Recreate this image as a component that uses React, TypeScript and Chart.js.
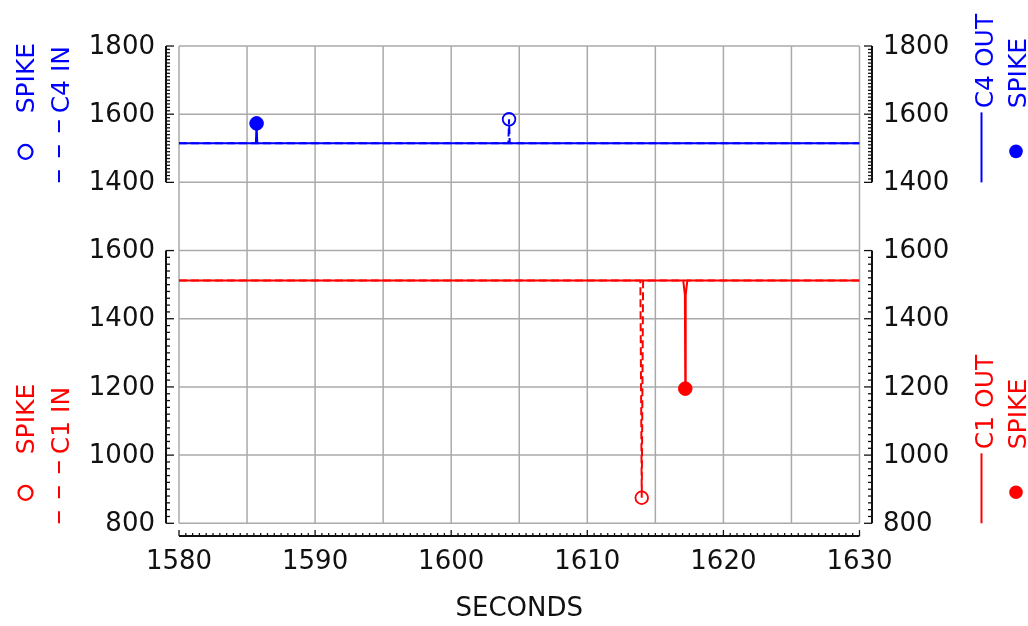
import React, { useEffect, useRef } from 'react';
import { Chart, registerables } from 'chart.js';

Chart.register(...registerables);

// ---------- data ----------
const c4InTimes = [1580, 1604.2, 1604.25, 1604.3, 1630];
const c4InValues = [1515, 1515, 1585, 1515, 1515];
const c4OutTimes = [1580, 1585.65, 1585.7, 1585.75, 1630];
const c4OutValues = [1515, 1515, 1573, 1515, 1515];
const c4InSpikeTimes = [1604.25];
const c4InSpikeValues = [1585];
const c4OutSpikeTimes = [1585.7];
const c4OutSpikeValues = [1573];

const c1InTimes = [1580, 1613.9, 1614.0, 1614.1, 1630];
const c1InValues = [1512, 1512, 875, 1512, 1512];
const c1OutTimes = [1580, 1617.05, 1617.17, 1617.2, 1617.23, 1617.35, 1630];
const c1OutValues = [1512, 1512, 1470, 1195, 1470, 1512, 1512];
const c1InSpikeTimes = [1614.0];
const c1InSpikeValues = [875];
const c1OutSpikeTimes = [1617.2];
const c1OutSpikeValues = [1195];

// ---------- ticks ----------
const xTickValues = [1580, 1590, 1600, 1610, 1620, 1630];
const xTickLabels = ['1580', '1590', '1600', '1610', '1620', '1630'];
const xGridValues = [1580, 1585, 1590, 1595, 1600, 1605, 1610, 1615, 1620, 1625, 1630];
const topTickValues = [1400, 1600, 1800];
const topTickLabels = ['1400', '1600', '1800'];
const bottomTickValues = [800, 1000, 1200, 1400, 1600];
const bottomTickLabels = ['800', '1000', '1200', '1400', '1600'];

const X_MIN = 1580;
const X_MAX = 1630;
const TOP_MIN = 1400;
const TOP_MAX = 1800;
const BOT_MIN = 800;
const BOT_MAX = 1600;

const BLUE = '#0000ff';
const RED = '#ff0000';
const GRID = '#aaaaaa';
const INK = '#111111';
const FONT = '"DejaVu Sans", "Liberation Sans", sans-serif';

const pts = (xs: number[], ys: number[]) => xs.map((x, i) => ({ x, y: ys[i] }));

function vText(ctx: CanvasRenderingContext2D, text: string, x: number, y: number, color: string) {
  ctx.save();
  ctx.translate(x, y);
  ctx.rotate(-Math.PI / 2);
  ctx.textAlign = 'left';
  ctx.textBaseline = 'alphabetic';
  ctx.fillStyle = color;
  ctx.fillText(text, 0, 0);
  ctx.restore();
}

function seg(ctx: CanvasRenderingContext2D, x1: number, y1: number, x2: number, y2: number) {
  ctx.beginPath();
  ctx.moveTo(x1, y1);
  ctx.lineTo(x2, y2);
  ctx.stroke();
}

const decor = {
  id: 'decor',
  beforeDatasetsDraw(chart: any) {
    const { ctx, scales } = chart;
    const x = scales.x, yT = scales.yTop, yB = scales.yBot;
    ctx.save();
    ctx.strokeStyle = GRID;
    ctx.lineWidth = 1.5;
    const yTopPx = yT.getPixelForValue(TOP_MAX);
    const yBotPx = yB.getPixelForValue(BOT_MIN);
    for (const t of xGridValues) {
      const px = x.getPixelForValue(t);
      seg(ctx, px, yTopPx, px, yBotPx);
    }
    const xl = x.getPixelForValue(X_MIN), xr = x.getPixelForValue(X_MAX);
    for (const v of topTickValues) {
      const py = yT.getPixelForValue(v);
      seg(ctx, xl, py, xr, py);
    }
    for (const v of bottomTickValues) {
      const py = yB.getPixelForValue(v);
      seg(ctx, xl, py, xr, py);
    }
    ctx.restore();
  },
  afterDraw(chart: any) {
    const { ctx, scales } = chart;
    const x = scales.x, yT = scales.yTop, yB = scales.yBot;
    const xl = x.getPixelForValue(X_MIN), xr = x.getPixelForValue(X_MAX);
    const axL = xl - 13, axR = xr + 12.5;
    const axB = yB.getPixelForValue(BOT_MIN) + 12.7;
    ctx.save();
    ctx.strokeStyle = INK;
    ctx.fillStyle = INK;

    const panels = [
      { s: yT, min: TOP_MIN, max: TOP_MAX, minor: 10, major: topTickValues, labels: topTickLabels },
      { s: yB, min: BOT_MIN, max: BOT_MAX, minor: 20, major: bottomTickValues, labels: bottomTickLabels },
    ];
    for (const p of panels) {
      const top = p.s.getPixelForValue(p.max), bot = p.s.getPixelForValue(p.min);
      ctx.lineWidth = 2;
      seg(ctx, axL, top, axL, bot);
      seg(ctx, axR, top, axR, bot);
      ctx.lineWidth = 1.3;
      for (let v = p.min; v <= p.max + 1e-6; v += p.minor) {
        const py = p.s.getPixelForValue(v);
        const len = p.major.includes(v) ? 8 : 4;
        seg(ctx, axL, py, axL + len, py);
        seg(ctx, axR, py, axR - len, py);
      }
      ctx.font = `26px ${FONT}`;
      ctx.textBaseline = 'middle';
      p.major.forEach((v: number, i: number) => {
        const py = p.s.getPixelForValue(v);
        ctx.textAlign = 'right';
        ctx.fillText(p.labels[i], 155, py + 1);
        ctx.textAlign = 'left';
        ctx.fillText(p.labels[i], 883, py + 1);
      });
    }

    ctx.lineWidth = 2;
    seg(ctx, xl, axB, xr, axB);
    ctx.lineWidth = 1.3;
    for (let t = X_MIN; t <= X_MAX + 1e-6; t += 0.5) {
      const px = x.getPixelForValue(t);
      const len = xTickValues.includes(t) ? 6 : 3;
      seg(ctx, px, axB, px, axB - len);
    }
    ctx.font = `26px ${FONT}`;
    ctx.textAlign = 'center';
    ctx.textBaseline = 'middle';
    xTickValues.forEach((t, i) => {
      ctx.fillText(xTickLabels[i], x.getPixelForValue(t), 562);
    });
    ctx.fillText('SECONDS', (xl + xr) / 2, 609);

    ctx.font = `25px ${FONT}`;
    const legends = [
      { pb: yT.getPixelForValue(TOP_MIN), color: BLUE, inLabel: 'C4 IN', outLabel: 'C4 OUT' },
      { pb: yB.getPixelForValue(BOT_MIN), color: RED, inLabel: 'C1 IN', outLabel: 'C1 OUT' },
    ];
    for (const L of legends) {
      const c = L.color;
      vText(ctx, 'SPIKE', 33.5, L.pb - 69, c);
      ctx.strokeStyle = c;
      ctx.lineWidth = 2.2;
      ctx.beginPath();
      ctx.arc(25.5, L.pb - 30.5, 7, 0, Math.PI * 2);
      ctx.stroke();
      vText(ctx, L.inLabel, 68.5, L.pb - 69, c);
      ctx.lineWidth = 2;
      ctx.setLineDash([12, 13]);
      seg(ctx, 59, L.pb, 59, L.pb - 63);
      ctx.setLineDash([]);
      vText(ctx, L.outLabel, 992.5, L.pb - 74, c);
      seg(ctx, 981.5, L.pb, 981.5, L.pb - 70);
      vText(ctx, 'SPIKE', 1025.5, L.pb - 74, c);
      ctx.fillStyle = c;
      ctx.beginPath();
      ctx.arc(1016, L.pb - 31, 6.8, 0, Math.PI * 2);
      ctx.fill();
    }
    ctx.restore();
  },
};

export default function App() {
  const ref = useRef<HTMLCanvasElement>(null);
  useEffect(() => {
    const lineDs = (label: string, xs: number[], ys: number[], axis: string, color: string, dashed: boolean) => ({
      type: 'line' as const,
      label,
      data: pts(xs, ys),
      yAxisID: axis,
      borderColor: color,
      borderWidth: 2,
      borderDash: dashed ? [8, 4] : [],
      pointRadius: 0,
      tension: 0,
      fill: false,
    });
    const spikeDs = (label: string, xs: number[], ys: number[], axis: string, color: string, filled: boolean) => ({
      type: 'line' as const,
      label,
      data: pts(xs, ys),
      yAxisID: axis,
      showLine: false,
      pointRadius: filled ? 6.8 : 6.3,
      pointBorderWidth: filled ? 1 : 1.8,
      pointBorderColor: color,
      pointBackgroundColor: filled ? color : 'rgba(0,0,0,0)',
      borderColor: color,
    });
    const chart = new Chart(ref.current as HTMLCanvasElement, {
      type: 'line',
      data: {
        datasets: [
          lineDs('C4 OUT', c4OutTimes, c4OutValues, 'yTop', BLUE, false),
          lineDs('C4 IN', c4InTimes, c4InValues, 'yTop', BLUE, true),
          spikeDs('C4 IN SPIKE', c4InSpikeTimes, c4InSpikeValues, 'yTop', BLUE, false),
          spikeDs('C4 OUT SPIKE', c4OutSpikeTimes, c4OutSpikeValues, 'yTop', BLUE, true),
          lineDs('C1 OUT', c1OutTimes, c1OutValues, 'yBot', RED, false),
          lineDs('C1 IN', c1InTimes, c1InValues, 'yBot', RED, true),
          spikeDs('C1 IN SPIKE', c1InSpikeTimes, c1InSpikeValues, 'yBot', RED, false),
          spikeDs('C1 OUT SPIKE', c1OutSpikeTimes, c1OutSpikeValues, 'yBot', RED, true),
        ] as any,
      },
      options: {
        animation: false,
        responsive: false,
        devicePixelRatio: 1,
        events: [],
        layout: { padding: { left: 179, right: 168.5, top: 46, bottom: 102.7 } },
        scales: {
          x: { type: 'linear', min: X_MIN, max: X_MAX, display: false },
          yTop: { type: 'linear', position: 'left', min: 400, max: TOP_MAX, display: false },
          yBot: { type: 'linear', position: 'left', min: BOT_MIN, max: 2200, display: false },
        },
        plugins: { legend: { display: false }, tooltip: { enabled: false } },
      } as any,
      plugins: [decor],
    });
    return () => chart.destroy();
  }, []);
  return (
    <div style={{ position: 'absolute', left: 0, top: 0, width: 1028, height: 626, background: '#ffffff' }}>
      <canvas ref={ref} width={1028} height={626} style={{ display: 'block', width: 1028, height: 626 }} />
    </div>
  );
}
